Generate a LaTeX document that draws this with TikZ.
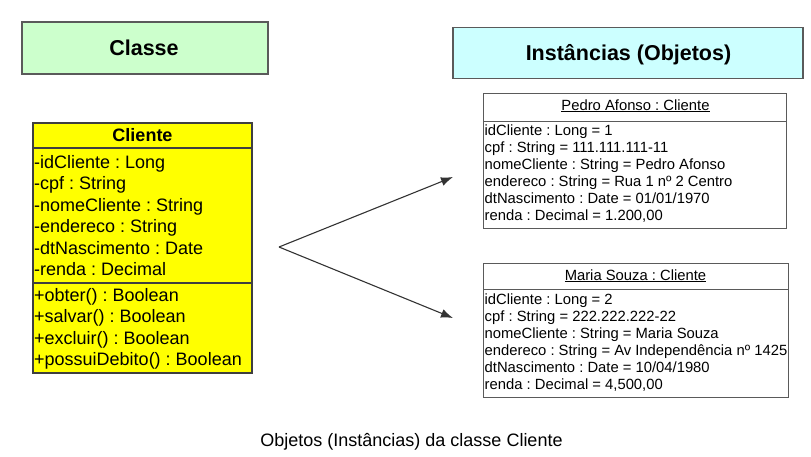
\documentclass[tikz,border=0pt]{standalone}
\usepackage{fontspec}
\setmainfont{Liberation Sans}
\usetikzlibrary{arrows.meta}
\frenchspacing
\definecolor{titlegreen}{HTML}{CCFFCC}
\definecolor{titlecyan}{HTML}{CCFFFF}
\definecolor{classyellow}{HTML}{FFFF00}
\definecolor{borderg}{HTML}{5A5A5A}
\definecolor{arrowg}{HTML}{333333}
\tikzset{
  titlebox/.style={draw=borderg, line width=1.3pt, inner sep=0pt},
  titletext/.style={inner sep=0pt, anchor=base, font=\fontsize{21.5}{24}\selectfont\bfseries},
  classbox/.style={draw=borderg!70!black, line width=1.3pt, fill=classyellow, inner sep=0pt},
  objbox/.style={draw=borderg, line width=0.9pt, fill=white, inner sep=0pt},
  sep/.style={draw=borderg!70!black, line width=1.3pt},
  osep/.style={draw=borderg, line width=0.9pt},
  classline/.style={inner sep=0pt, anchor=base west, font=\fontsize{18}{20}\selectfont},
  objline/.style={inner sep=0pt, anchor=base west, font=\fontsize{14.8}{17}\selectfont},
  objhead/.style={inner sep=0pt, anchor=base, font=\fontsize{14.8}{17}\selectfont},
  conn/.style={draw=arrowg, line width=1.1pt, -{Latex[length=12pt,width=9pt]}},
}
\newcommand{\ul}[1]{\underline{#1}}
\begin{document}
\begin{tikzpicture}[x=1pt,y=-1pt]
\useasboundingbox (0,0) rectangle (811,456);
% titles
\node[titlebox, fill=titlegreen, minimum width=246, minimum height=52] (classe) at (145,48) {};
\node[titletext] (classet) at (144,55) {Classe};
\node[titlebox, fill=titlecyan, minimum width=350, minimum height=51] (inst) at (628,53) {};
\node[titletext] (instt) at (628.5,60.5) {Instâncias (Objetos)};
% class Cliente
\node[classbox, minimum width=219, minimum height=250] (cliente) at (142.5,248) {};
\draw[sep] (33,148) -- (252,148);
\draw[sep] (33,283) -- (252,283);
\node[inner sep=0pt, anchor=base, font=\fontsize{18}{20}\selectfont\bfseries] (clh) at (142.5,141) {Cliente};
\node[classline] (a1) at (34,168) {-idCliente : Long};
\node[classline] (a2) at (34,189.5) {-cpf : String};
\node[classline] (a3) at (34,211) {-nomeCliente : String};
\node[classline] (a4) at (34,232.5) {-endereco : String};
\node[classline] (a5) at (34,254) {-dtNascimento : Date};
\node[classline] (a6) at (34,275) {-renda : Decimal};
\node[classline] (m1) at (34,301) {+obter() : Boolean};
\node[classline] (m2) at (34,322.5) {+salvar() : Boolean};
\node[classline] (m3) at (34,344) {+excluir() : Boolean};
\node[classline] (m4) at (34,365.5) {+possuiDebito() : Boolean};
% object Pedro
\node[objbox, minimum width=303, minimum height=135] (pedro) at (634.5,160.5) {};
\draw[osep] (483,121) -- (786,121);
\node[objhead] (ph) at (635.5,110) {\ul{Pedro Afonso : Cliente}};
\node[objline] (p1) at (484.5,135) {idCliente : Long = 1};
\node[objline] (p2) at (484.5,152) {cpf : String = 111.111.111-11};
\node[objline] (p3) at (484.5,169) {nomeCliente : String = Pedro Afonso};
\node[objline] (p4) at (484.5,186) {endereco : String = Rua 1 nº 2 Centro};
\node[objline] (p5) at (484.5,203) {dtNascimento : Date = 01/01/1970};
\node[objline] (p6) at (484.5,220) {renda : Decimal = 1.200,00};
% object Maria
\node[objbox, minimum width=305, minimum height=134] (maria) at (635.5,330) {};
\draw[osep] (483,289) -- (788,289);
\node[objhead] (mh) at (635.5,280) {\ul{Maria Souza : Cliente}};
\node[objline] (q1) at (484.5,304) {idCliente : Long = 2};
\node[objline] (q2) at (484.5,321.5) {cpf : String = 222.222.222-22};
\node[objline] (q3) at (484.5,338.5) {nomeCliente : String = Maria Souza};
\node[objline] (q4) at (484.5,355.5) {endereco : String = Av Independência nº 1425};
\node[objline] (q5) at (484.5,372.5) {dtNascimento : Date = 10/04/1980};
\node[objline] (q6) at (484.5,389.5) {renda : Decimal = 4,500,00};
% arrows
\coordinate (apex) at (279,247);
\coordinate (tipA) at (453,177);
\coordinate (tipB) at (453,318);
\draw[conn] (apex) -- (tipA);
\draw[conn] (apex) -- (tipB);
% caption
\node[inner sep=0pt, anchor=base, font=\fontsize{18}{20}\selectfont] (cap) at (411.5,446) {Objetos (Instâncias) da classe Cliente};
\end{tikzpicture}
\end{document}
